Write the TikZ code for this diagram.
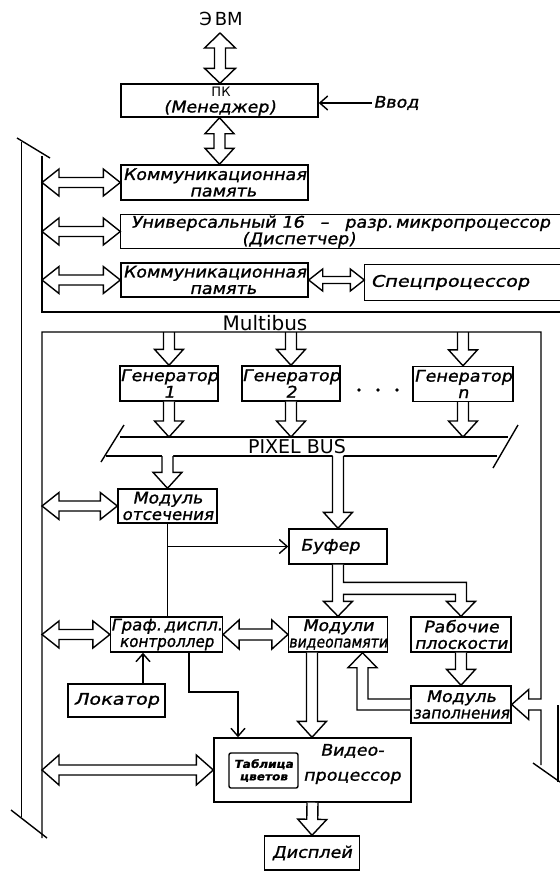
\documentclass[tikz,border=0pt]{standalone}
\usepackage{fontspec}
\usetikzlibrary{calc,arrows.meta}
\newfontfamily\hand[FakeStretch=1.1,FakeSlant=0.2,FakeBold=1.2]{DejaVu Sans}
\newfontfamily\upr{DejaVu Sans}
% double wide arrow: A, B, shaft half, head half, head length
\newcommand\darrowP[5]{%
 \path (#1) coordinate (wA) (#2) coordinate (wB);
 \path ($(wA)!#5!(wB)$) coordinate (wC) ($(wB)!#5!(wA)$) coordinate (wD);
 \draw[fill=white] (wA) -- ($(wC)!#4!90:(wB)$) -- ($(wC)!#3!90:(wB)$) -- ($(wD)!#3!90:(wB)$) -- ($(wD)!#4!90:(wB)$) -- (wB) -- ($(wD)!#4!-90:(wB)$) -- ($(wD)!#3!-90:(wB)$) -- ($(wC)!#3!-90:(wB)$) -- ($(wC)!#4!-90:(wB)$) -- cycle;}
\newcommand\darrow[2]{\darrowP{#1}{#2}{5.5pt}{14.5pt}{16pt}}
% single wide arrow: overshoot, A, B, shaft half, head half, head length
\newcommand\sarrowP[6]{%
 \path (#2) coordinate (wA) (#3) coordinate (wB);
 \path ($(wB)!#6!(wA)$) coordinate (wD) ($(wA)!-#1!(wB)$) coordinate (wE);
 \fill[white] ($(wE)!#4!90:(wB)$) -- ($(wD)!#4!90:(wB)$) -- ($(wD)!#5!90:(wB)$) -- (wB) -- ($(wD)!#5!-90:(wB)$) -- ($(wD)!#4!-90:(wB)$) -- ($(wE)!#4!-90:(wB)$) -- cycle;
 \draw ($(wA)!#4!90:(wB)$) -- ($(wD)!#4!90:(wB)$) -- ($(wD)!#5!90:(wB)$) -- (wB) -- ($(wD)!#5!-90:(wB)$) -- ($(wD)!#4!-90:(wB)$) -- ($(wA)!#4!-90:(wB)$);}
\newcommand\sarrow[3][0pt]{\sarrowP{#1}{#2}{#3}{5.5pt}{14.5pt}{16pt}}
\begin{document}
\begin{tikzpicture}[x=1pt,y=-1pt,line width=1.4pt,
  box/.style={draw,fill=white,inner sep=0pt,align=center,
    font=\hand\fontsize{16}{16.5}\selectfont},
  lbl/.style={inner sep=1pt,align=center,font=\hand\fontsize{16}{16.5}\selectfont},
  barb/.style={-{Straight Barb[length=8pt,width=14pt]}}]
\useasboundingbox (0,0) rectangle (560,871);
% reference coordinates
\coordinate (busL) at (42,0);
\coordinate (busR) at (541,0);
\coordinate (edgeR) at (560,0);
\coordinate (mbB) at (0,332);
\coordinate (pbT) at (0,437);
\coordinate (pbB) at (0,456);
% ---------- buses ----------
\draw (21.5,142) -- (21.5,817);
\draw (17,138) -- (50,158);
\draw (11,810) -- (47,838);
\draw (42,156) -- (42,312) -- (560,312);
% PIXEL BUS
\draw (120,437) -- (508,437);
\draw (106,456) -- (497,456);
\draw (124,425) -- (101,462);
\draw (518,425) -- (493,468);
\node[font=\upr\fontsize{19}{19}\selectfont,inner sep=0pt] (pb) at (297,447) {PIXEL BUS};
\node[font=\upr\fontsize{20}{20}\selectfont,inner sep=0pt] (mb) at (265,323.5) {Multibus};
% right bus end
\draw (558,705) -- (558,782);
\draw (533,763) -- (560,782);
% ---------- nodes ----------
\node[font=\upr\fontsize{18}{18}\selectfont,inner sep=0pt] (evm) at (221,19) {Э\,ВМ};
\node[box,minimum width=197pt,minimum height=33pt] (pk) at (219.5,100.5) {};
\node[inner sep=0pt,font=\upr\fontsize{13}{13}\selectfont] (pkt) at (221,92) {ПК};
\node[lbl,inner sep=0pt] (pkm) at (219.5,108) {(Менеджер)};
\node[lbl] (vvod) at (396,103) {Ввод};
\node[box,minimum width=187pt,minimum height=35pt] (komm1) at (214.5,182.5)
  {Коммуникационная\\\hspace*{17pt}память};
\node[box,draw=none,fill=none,minimum width=439pt,minimum height=33pt] (univ) at (340.5,231.5)
  {Универсальный 16\quad–\quad разр.\,микропроцессор\\(Диспетчер)\hspace*{84pt}};
\draw (univ.north west -| edgeR) -- (univ.north west) -- (univ.south west) -- (univ.south west -| edgeR);
\node[box,minimum width=187pt,minimum height=34pt] (komm2) at (214.5,280)
  {Коммуникационная\\\hspace*{17pt}память};
\node[box,draw=none,fill=none,minimum width=170pt,minimum height=35pt] (spec) at (450,282.5)
  {\scalebox{1.1}[1]{Спецпроцессор}};
\draw (spec.north west -| edgeR) -- (spec.north west) -- (spec.south west) -- (spec.south west -| edgeR);
\node[box,minimum width=98pt,minimum height=35pt] (gen1) at (169,383.5) {Генератор\\1};
\node[box,minimum width=96pt,minimum height=35pt] (gen2) at (291,383.5) {Генератор\\2};
\node[box,minimum width=100pt,minimum height=35pt] (genn) at (463,384) {Генератор\\n};
\fill (359,390) circle (1.8) (378,390) circle (1.8) (397,390) circle (1.8);
\node[box,minimum width=99pt,minimum height=34pt] (ots) at (167.5,506) {Модуль\\\scalebox{0.95}[1]{отсечения}};
\node[box,minimum width=98pt,minimum height=35pt] (buf) at (338,546.5) {Буфер\hspace*{16pt}};
\node[box,minimum width=99pt,minimum height=35pt] (graf) at (166.5,634.5)
  {\scalebox{0.95}[1]{Граф.\,диспл.}\\\scalebox{0.86}[1]{контроллер}};
\node[box,minimum width=98pt,minimum height=35pt] (vmem) at (338,634.5)
  {Модули\\\scalebox{0.8}[1]{видеопамяти}};
\node[box,minimum width=100pt,minimum height=35pt] (rab) at (461,634.5) {Рабочие\\\scalebox{0.97}[1]{плоскости}};
\node[box,minimum width=97pt,minimum height=33pt] (lok) at (116.5,700.5) {\scalebox{1.1}[1]{Локатор}};
\node[box,minimum width=100pt,minimum height=37pt] (zap) at (461,704.5)
  {Модуль\\\scalebox{0.88}[1]{заполнения}};
\node[box,minimum width=197pt,minimum height=64pt] (vproc) at (312.5,770) {};
\node[box,rounded corners=2pt,minimum width=69pt,minimum height=35pt,
  font=\hand\bfseries\fontsize{11}{12.5}\selectfont] (tab) at (263.5,770.5) {Таблица\\цветов};
\node[lbl,font=\hand\fontsize{16}{25}\selectfont] (vtx) at (352,764) {Видео-\\процессор};
\node[box,minimum width=95pt,minimum height=34pt] (disp) at (312,853) {Дисплей};
% ---------- thin connectors ----------
\draw[barb] (vvod.west) -- (pk.east |- vvod.west);
\draw (ots.south) -- (ots.south |- graf.north);
\draw[barb] (ots.south |- buf.west) -- (buf.west);
\coordinate (lk) at ($(lok.north)+(26.5,0)$);
\draw[barb] (lk) -- (lk |- graf.south);
\coordinate (g1) at ($(graf.south)+(22.5,0)$);
\coordinate (g2) at ($(vproc.north)+(-74.5,0)$);
\draw[barb] (g1) -- (g1 |- 0,692) -- (g2 |- 0,692) -- (g2);
% ---------- wide arrows ----------
\coordinate (e1) at (220,33);
\darrowP{e1}{e1 |- pk.north}{5.5pt}{15.5pt}{15pt}
\darrow{pk.south}{pk.south |- komm1.north}
\darrowP{komm1.west -| busL}{komm1.west}{5pt}{13.5pt}{17pt}
\darrowP{univ.west -| busL}{univ.west}{5pt}{13.5pt}{17pt}
\darrowP{komm2.west -| busL}{komm2.west}{5pt}{13.5pt}{17pt}
\darrowP{komm2.east}{komm2.east -| spec.west}{3.5pt}{11pt}{14pt}
\sarrow[1.5pt]{gen1.north |- mbB}{gen1.north}
\sarrow[1.5pt]{gen2.north |- mbB}{gen2.north}
\sarrow[1.5pt]{genn.north |- mbB}{genn.north}
\sarrow{gen1.south}{gen1.south |- pbT}
\sarrow{gen2.south}{gen2.south |- pbT}
\sarrow{genn.south}{genn.south |- pbT}
\sarrow[1.5pt]{ots.north |- pbB}{ots.north}
\sarrow[1.5pt]{buf.north |- pbB}{buf.north}
\darrowP{ots.west -| busL}{ots.west}{5pt}{13.5pt}{17pt}
\darrowP{graf.west -| busL}{graf.west}{5pt}{13.5pt}{17pt}
\darrow{graf.east}{vmem.west}
\darrowP{vproc.west -| busL}{vproc.west}{5pt}{15pt}{17pt}
% buffer split
\draw[fill=white] ($(buf.south)+(-5.5,0)$) -- ($(vmem.north)+(-5.5,-15)$) -- ($(vmem.north)+(-14.5,-15)$)
  -- (vmem.north) -- ($(vmem.north)+(14.5,-15)$) -- ($(vmem.north)+(5.5,-15)$) -- ($(vmem.north)+(5.5,-22)$)
  -- ($(rab.north)+(-5.5,-22)$) -- ($(rab.north)+(-5.5,-15)$) -- ($(rab.north)+(-14.5,-15)$) -- (rab.north)
  -- ($(rab.north)+(14.5,-15)$) -- ($(rab.north)+(5.5,-15)$) -- ($(rab.north)+(5.5,-34)$)
  -- ($(vmem.north)+(5.5,-34)$) -- ($(buf.south)+(5.5,0)$);
\coordinate (v1) at ($(vmem.south)+(-26,0)$);
\sarrow{v1}{v1 |- vproc.north}
\sarrow{rab.south}{zap.north}
% fill module -> video memory
\coordinate (vt) at ($(vmem.south)+(24.5,0)$);
\draw[fill=white] ($(zap.west)+(0,-5.5)$) -- ($(vt |- zap.west)+(5.5,-5.5)$) -- ($(vt)+(5.5,15)$) -- ($(vt)+(14.5,15)$)
  -- (vt) -- ($(vt)+(-14.5,15)$) -- ($(vt)+(-5.5,15)$) -- ($(vt |- zap.west)+(-5.5,5.5)$) -- ($(zap.west)+(0,5.5)$);
% multibus lower line, right bus and arrow into fill module
\draw (busL |- 0,838) -- (busL |- mbB) -- (busR |- mbB) -- ($(busR |- zap.east)+(0,-5.5)$)
  -- ($(zap.east)+(17,-5.5)$) -- ($(zap.east)+(17,-15)$) -- (zap.east) -- ($(zap.east)+(17,15)$)
  -- ($(zap.east)+(17,5.5)$) -- ($(busR |- zap.east)+(0,5.5)$) -- (busR |- 0,765);
\sarrow{vproc.south}{disp.north}
\end{tikzpicture}
\end{document}
